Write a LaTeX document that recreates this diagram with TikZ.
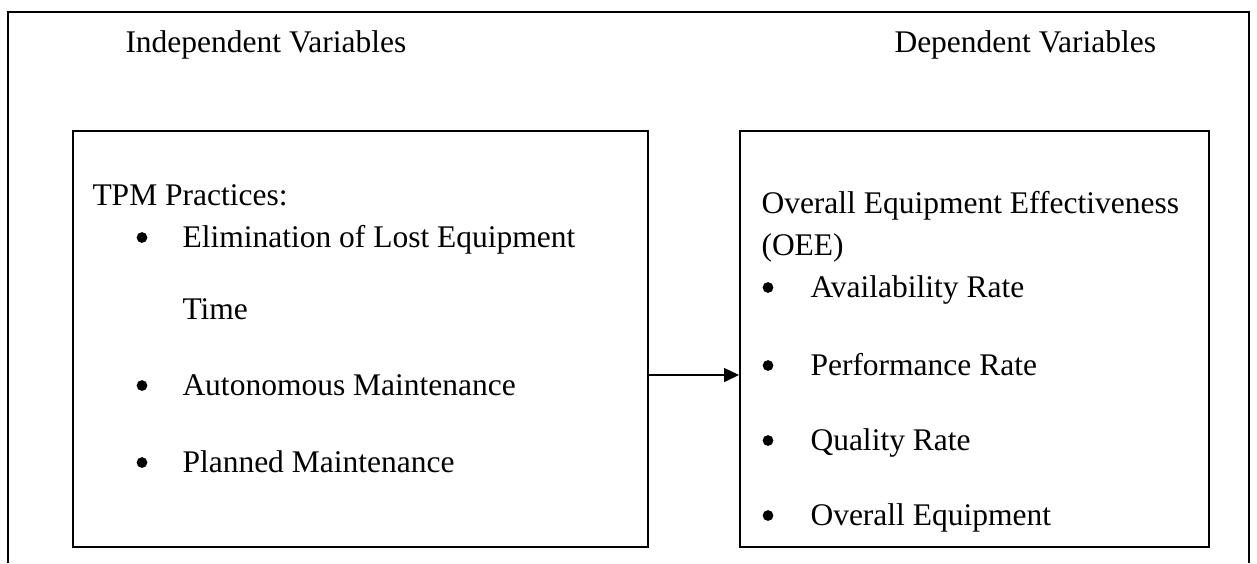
\documentclass[tikz,border=0pt]{standalone}
\usepackage{fontspec}
\setmainfont{Liberation Serif}
\usetikzlibrary{arrows.meta, positioning}

\tikzset{
  frame/.style={line width=0.8pt},
  varbox/.style={draw, line width=0.6pt, inner sep=0pt, anchor=north west, minimum height=166.4pt},
  txt/.style={inner sep=0pt, anchor=base west, font=\fontsize{12.6}{15}\selectfont},
  dot/.style={circle, fill, inner sep=0pt, minimum size=4.3pt},
}

\begin{document}
\begin{tikzpicture}[x=0.4pt, y=-0.4pt]
\useasboundingbox (0,0) rectangle (1257,563);

% outer frame, left open at the bottom
\draw[frame] (8,563) -- (8,12) -- (1249,12) -- (1249,563);

% column headings
\node[txt] (indep) at (125,52) {Independent Variables};
\node[txt] (dep) at (894,52) {Dependent Variables};

% the two variable boxes
\node[varbox, minimum width=230pt] (tpm) at (72,130) {};
\node[varbox, minimum width=187.6pt] (oee) at (739,130) {};

% TPM practices
\node[txt] (tpmhead) at (92,205) {TPM Practices:};
\node[txt] (elim) at (182,247) {Elimination of Lost Equipment};
\node[txt] (elimb) at (182,319) {Time};
\node[txt] (auto) at (182,395) {Autonomous Maintenance};
\node[txt] (plan) at (182,472) {Planned Maintenance};
\foreach \y in {247,395,472}
  \node[dot] at (142,\y-9.5) {};

% OEE measures
\node[txt] (oeehead) at (761,213) {Overall Equipment Effectiveness};
\node[txt] (oeeabbr) at (761,255) {(OEE)};
\node[txt] (avail) at (810,297) {Availability Rate};
\node[txt] (perf) at (810,375) {Performance Rate};
\node[txt] (qual) at (810,450) {Quality Rate};
\node[txt] (overall) at (810,525) {Overall Equipment};
\foreach \y in {297,375,450,525}
  \node[dot] at (768,\y-9.5) {};

% relation between the boxes
\coordinate (lvl) at (0,375);
\draw[line width=0.6pt, -{Triangle[length=6pt, width=5.6pt]}] (tpm.east |- lvl) -- (oee.west |- lvl);
\end{tikzpicture}
\end{document}
